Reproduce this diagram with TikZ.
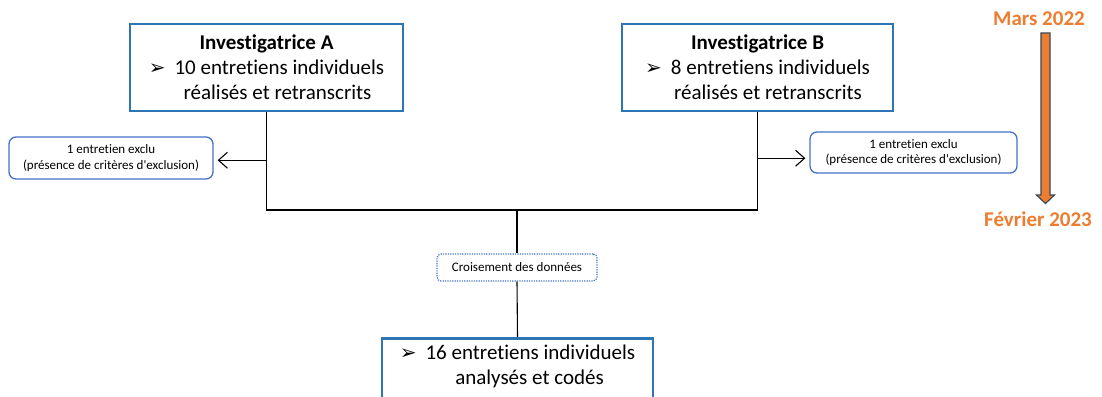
\documentclass[tikz,border=0pt]{standalone}
\usepackage{fontspec}
\newfontfamily\calfont{Carlito}[Ligatures=NoCommon]
\newfontfamily\symfont{DejaVu Sans}
\usetikzlibrary{arrows.meta}
\definecolor{mainblue}{HTML}{2E75B6}
\definecolor{lightblue}{HTML}{4472C4}
\definecolor{orangeA}{HTML}{ED7D31}
\definecolor{slate}{HTML}{3A4A56}
\newcommand{\puce}{{\symfont\fontsize{20}{20}\selectfont ➢}}
\begin{document}
\begin{tikzpicture}[x=1pt,y=-1pt,
  mainbox/.style={draw=mainblue,line width=2.5pt,fill=white,align=center,
    font=\calfont\fontsize{21}{25}\selectfont,inner sep=0pt},
  exbox/.style={draw=lightblue,line width=1.3pt,rounded corners=7pt,align=center,
    font=\calfont\fontsize{13}{15.5}\selectfont,inner sep=0pt},
  crossbox/.style={draw=lightblue,line width=1.2pt,dash pattern=on 1.2pt off 1.2pt,
    rounded corners=4pt,align=center,font=\calfont\fontsize{13}{15.5}\selectfont,inner sep=0pt},
  conn/.style={draw=black,line width=1.1pt},
  exarrow/.style={conn,-{Straight Barb[length=9pt,width=16pt,line width=1.1pt]},shorten >=4pt},
  timefont/.style={font=\calfont\fontsize{21}{25}\selectfont\bfseries,text=orangeA,inner sep=0pt}
]
\clip (0,0) rectangle (1102,396);
\fill[white] (0,0) rectangle (1102,396);

\node[mainbox,minimum width=273pt,minimum height=87pt] (A) at (266.5,67.5)
  {\textbf{Investigatrice A}\\\puce\hspace{9pt}10 entretiens individuels\\\hspace*{22pt}réalisés et retranscrits};
\node[mainbox,minimum width=271pt,minimum height=87pt] (B) at (757.5,67.5)
  {\textbf{Investigatrice B}\\\puce\hspace{9pt}8 entretiens individuels\\\hspace*{21pt}réalisés et retranscrits};

\node[exbox,minimum width=204pt,minimum height=42pt] (exA) at (111,158)
  {1 entretien exclu\\(présence de critères d'exclusion)};
\node[exbox,minimum width=207pt,minimum height=41pt] (exB) at (913.5,152.5)
  {1 entretien exclu\\(présence de critères d'exclusion)};

\node[crossbox,minimum width=160pt,minimum height=27pt] (C) at (517,267.5) {Croisement des données};

\node[mainbox,anchor=north,minimum width=271pt,inner ysep=7pt,text depth=30pt] (F) at (517.5,337)
  {\puce\hspace{9pt}16 entretiens individuels\\\hspace*{24pt}analysés et codés};

\coordinate (J) at (517,210);
\path (A.south) ++(0,48) coordinate (pA);
\path (B.south) ++(0,46) coordinate (pB);

\draw[conn] (A.south) |- (J) -| (B.south);
\draw[conn] (J) -- (C.north);
\draw[conn] (C.south) -- (F.north);
\draw[exarrow] (pA) -- (pA -| exA.east);
\draw[exarrow] (pB) -- (pB -| exB.west);

\node[timefont] (mars) at (1039,18.5) {Mars 2022};
\node[timefont] (fev) at (1038,219) {Février 2023};
\draw[fill=orangeA,draw=slate,line width=1.2pt,line join=miter]
  (1041,33) -- (1050,33) -- (1050,195) -- (1054.5,195) -- (1045.5,203.5)
  -- (1036.5,195) -- (1041,195) -- cycle;
\end{tikzpicture}
\end{document}
